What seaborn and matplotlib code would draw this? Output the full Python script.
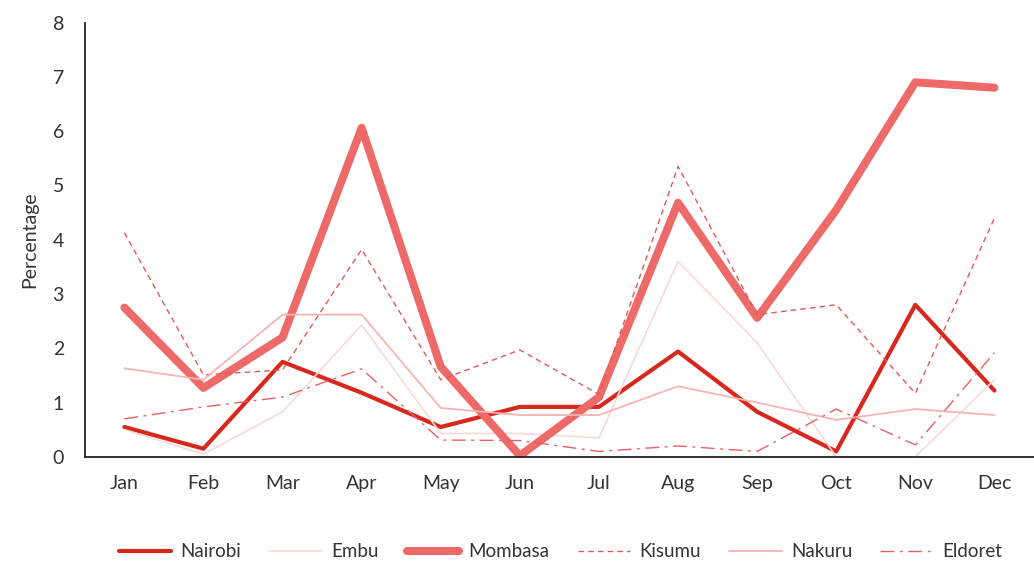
import pandas as pd
import seaborn as sns
import matplotlib.pyplot as plt

# data
months = ["Jan", "Feb", "Mar", "Apr", "May", "Jun", "Jul", "Aug", "Sep", "Oct", "Nov", "Dec"]
nairobi = [0.55, 0.15, 1.75, 1.18, 0.55, 0.92, 0.92, 1.94, 0.83, 0.1, 2.8, 1.22]
embu = [0.5, 0.05, 0.83, 2.43, 0.43, 0.43, 0.35, 3.6, 2.1, 0.0, 0.0, 1.42]
mombasa = [2.75, 1.27, 2.2, 6.06, 1.66, 0.02, 1.1, 4.68, 2.56, 4.55, 6.9, 6.8]
kisumu = [4.13, 1.51, 1.6, 3.82, 1.42, 1.97, 1.15, 5.35, 2.62, 2.8, 1.17, 4.4]
nakuru = [1.63, 1.42, 2.62, 2.62, 0.9, 0.77, 0.77, 1.3, 1.0, 0.68, 0.88, 0.77]
eldoret = [0.7, 0.92, 1.1, 1.62, 0.31, 0.3, 0.1, 0.2, 0.1, 0.88, 0.22, 1.92]

sns.set_style("white")
plt.rcParams['font.family'] = ['Lato', 'DejaVu Sans']

fig = plt.figure(figsize=(10.34, 5.64), dpi=100)
ax = fig.add_axes([0.082, 0.19, 0.918, 0.77])

styles = [
    ("Nairobi", nairobi, "#D8281E", 3.0, "-"),
    ("Embu", embu, "#FBD8D8", 1.2, "-"),
    ("Mombasa", mombasa, "#ED6A68", 5.8, "-"),
    ("Kisumu", kisumu, "#E25A58", 1.0, (0, (4, 3))),
    ("Nakuru", nakuru, "#F6B4B2", 1.3, "-"),
    ("Eldoret", eldoret, "#E46260", 1.0, (0, (10, 4, 2, 4))),
]

x = list(range(len(months)))
for name, vals, color, lw, ls in styles:
    df = pd.DataFrame({"x": x, "y": vals})
    sns.lineplot(data=df, x="x", y="y", ax=ax, color=color, linewidth=lw,
                 linestyle=ls, label=name, sort=False)

ax.set_xlim(-0.5, 11.5)
ax.set_ylim(0, 8)
ax.set_xticks(x)
ax.set_xticklabels(months, fontsize=14, color="#333333")
ax.set_xticks([i + 0.5 for i in range(-1, 11)], minor=True)
ax.tick_params(axis="x", which="major", length=0, pad=13)
ax.tick_params(axis="x", which="minor", length=7, width=1.2, color="#222222", direction="out")
ax.set_yticks(range(0, 9))
ax.tick_params(axis="y", length=7, width=1.2, color="#222222", direction="out", labelsize=14,
               labelcolor="#333333", pad=8)
ax.set_xlabel("")
ax.set_ylabel("Percentage", fontsize=14, color="#333333", labelpad=10)

for s in ["top", "right"]:
    ax.spines[s].set_visible(False)
for s in ["left", "bottom"]:
    ax.spines[s].set_color("#222222")
    ax.spines[s].set_linewidth(1.3)

handles, labels = ax.get_legend_handles_labels()
ax.get_legend().remove()
fig.legend(handles, labels, loc="center", bbox_to_anchor=(0.542, 0.022), ncol=6, frameon=False,
           fontsize=13.5, handlelength=2.8, columnspacing=1.5, handletextpad=0.5,
           labelcolor="#333333")

fig.savefig("out.png", dpi=100)
